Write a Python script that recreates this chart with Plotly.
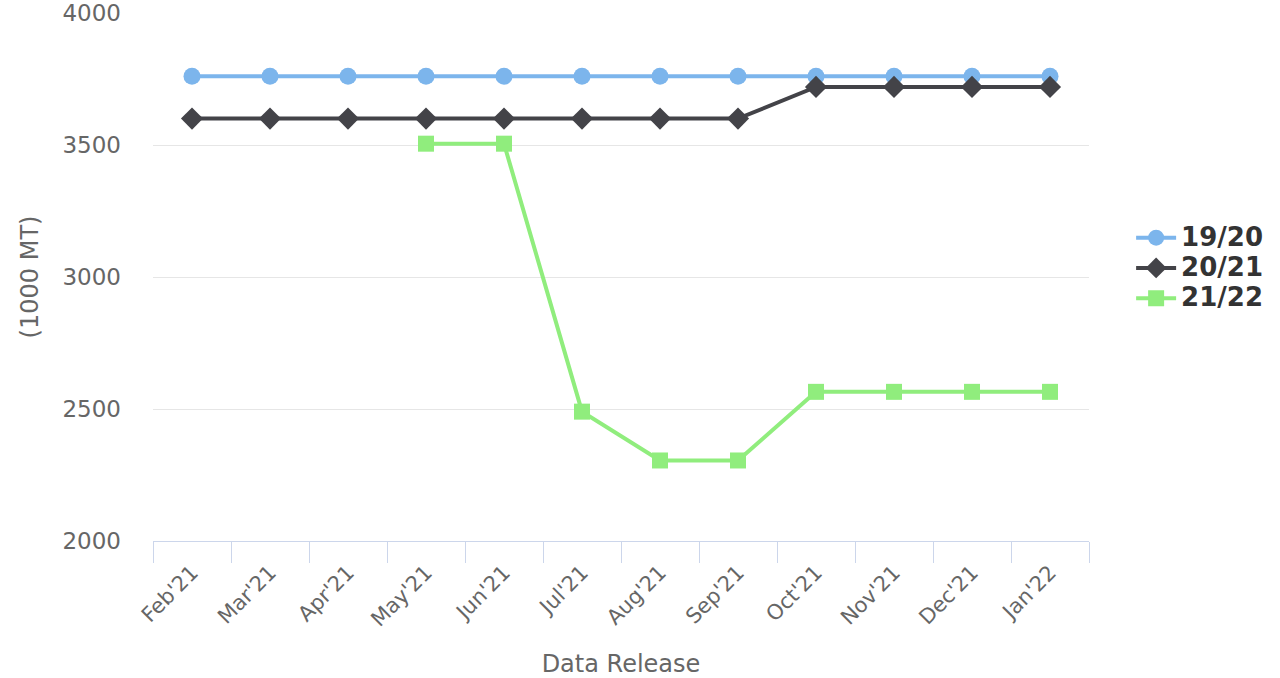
import plotly.graph_objects as go

# Monthly data releases (x axis categories)
releases = ["Feb'21", "Mar'21", "Apr'21", "May'21", "Jun'21", "Jul'21",
            "Aug'21", "Sep'21", "Oct'21", "Nov'21", "Dec'21", "Jan'22"]

# Estimates per marketing year, in 1000 MT
my_19_20 = [3760, 3760, 3760, 3760, 3760, 3760, 3760, 3760, 3760, 3760, 3760, 3760]
my_20_21 = [3600, 3600, 3600, 3600, 3600, 3600, 3600, 3600, 3720, 3720, 3720, 3720]
my_21_22 = [None, None, None, 3505, 3505, 2490, 2305, 2305, 2565, 2565, 2565, 2565]

FONT = "DejaVu Sans"
GREY = "#666666"


def legend_label(text):
    # larger glyphs while keeping the legend rows tightly packed
    return f"<span style='font-size:26px'>{text}</span>"


fig = go.Figure()
fig.add_trace(go.Scatter(
    x=releases, y=my_19_20, name=legend_label("19/20"), mode="lines+markers",
    line=dict(color="#7cb5ec", width=4),
    marker=dict(symbol="circle", size=17, color="#7cb5ec"),
))
fig.add_trace(go.Scatter(
    x=releases, y=my_20_21, name=legend_label("20/21"), mode="lines+markers",
    line=dict(color="#434348", width=4),
    marker=dict(symbol="diamond", size=17, color="#434348"),
))
fig.add_trace(go.Scatter(
    x=releases, y=my_21_22, name=legend_label("21/22"), mode="lines+markers",
    line=dict(color="#90ed7d", width=4),
    marker=dict(symbol="square", size=16, color="#90ed7d"),
))

fig.update_layout(
    width=1280, height=678,
    margin=dict(l=153, r=189, t=13, b=137),
    paper_bgcolor="white", plot_bgcolor="white",
    font=dict(family=FONT, color=GREY, size=22),
    showlegend=True,
    legend=dict(
        x=1.045, y=0.517, xanchor="left", yanchor="middle",
        font=dict(family=FONT, size=21, color="#333333", weight="bold"),
        tracegroupgap=0, itemwidth=40,
    ),
    xaxis=dict(
        type="category", range=[-0.5, 11.5], automargin=False,
        tickangle=-45, tickson="boundaries",
        ticks="outside", ticklen=21, tickcolor="#ccd6eb", tickwidth=1,
        ticklabelstandoff=10,
        showline=True, linecolor="#ccd6eb", linewidth=1,
        showgrid=False, zeroline=False,
        tickfont=dict(family=FONT, size=21, color=GREY),
        title=dict(text="Data Release", standoff=24,
                   font=dict(family=FONT, size=24, color=GREY)),
    ),
    yaxis=dict(
        range=[2000, 4000], dtick=500, tick0=2000, automargin=False,
        showgrid=True, gridcolor="#e6e6e6", gridwidth=1,
        showline=False, zeroline=False, ticks="",
        ticklabelstandoff=31,
        tickformat="d",
        tickfont=dict(family=FONT, size=23, color=GREY),
        title=dict(text="(1000 MT)", standoff=17,
                   font=dict(family=FONT, size=24, color=GREY)),
    ),
)

fig.write_html("out.html")
